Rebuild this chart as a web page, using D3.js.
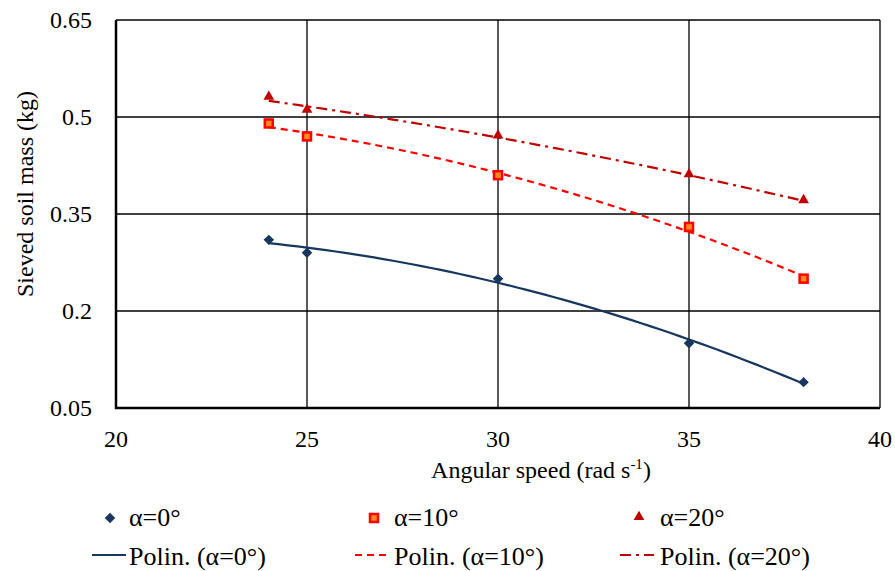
<!DOCTYPE html>
<html>
<head>
<meta charset="utf-8">
<script src="https://cdn.jsdelivr.net/npm/d3@7"></script>
</head>
<body style="margin:0; background:#fff">
<div style="position:absolute; left:-2000px; top:0; font-family:'Liberation Serif'; font-size:24px">Aa0.65 α=0°</div>
<svg width="895" height="571">
<text x="-500" y="-500" font-family="Liberation Serif" font-size="24">Aa</text>
</svg>
<script>
// data
var speeds = [24, 25, 30, 35, 38];
var mass_a0 = [0.31, 0.29, 0.25, 0.15, 0.09];
var mass_a10 = [0.49, 0.47, 0.41, 0.33, 0.25];
var mass_a20 = [0.53, 0.51, 0.47, 0.41, 0.37];
var x_ticks = [20, 25, 30, 35, 40];
var y_ticks = [0.05, 0.2, 0.35, 0.5, 0.65];
var series_names = ["α=0°", "α=10°", "α=20°"];

var svg = d3.select("svg");
var serif_face = "Liberation Serif";

var plot_left = 116, plot_right = 880, plot_top = 20, plot_bottom = 408;
var x = d3.scaleLinear().domain([20, 40]).range([plot_left, plot_right]);
var y = d3.scaleLinear().domain([0.05, 0.65]).range([plot_bottom, plot_top]);

var navy = "#17375E", red = "#FF0000", dark_red = "#C00000";

var add_text = function(parent, txt, px, py, size, anchor){
  return parent.append("text")
    .attr("x", px).attr("y", py)
    .attr("font-size", size)
    .attr("font-family", serif_face)
    .attr("text-anchor", anchor || "start")
    .text(txt);
};

// grid
svg.append("g").selectAll("line").data(x_ticks.slice(1))
  .enter().append("line")
  .attr("x1", d => x(d)).attr("x2", d => x(d))
  .attr("y1", plot_top).attr("y2", plot_bottom)
  .attr("stroke", "#000").attr("stroke-width", 1.3);
svg.append("g").selectAll("line").data(y_ticks.slice(1))
  .enter().append("line")
  .attr("x1", plot_left).attr("x2", plot_right)
  .attr("y1", d => y(d)).attr("y2", d => y(d))
  .attr("stroke", "#000").attr("stroke-width", 1.3);

// heavier left and bottom axes
svg.append("line").attr("x1", plot_left).attr("x2", plot_left).attr("y1", plot_top).attr("y2", plot_bottom + 1)
  .attr("stroke", "#000").attr("stroke-width", 2.5);
svg.append("line").attr("x1", plot_left - 1).attr("x2", plot_right).attr("y1", plot_bottom).attr("y2", plot_bottom)
  .attr("stroke", "#000").attr("stroke-width", 2.5);

// tick labels
var ytg = svg.append("g");
y_ticks.forEach(function(d){
  add_text(ytg, d, 92, y(d), 24, "end").attr("dy", "0.35em");
});
var xtg = svg.append("g");
x_ticks.forEach(function(d){
  add_text(xtg, d, x(d), 447, 24, "middle");
});

// axis titles
var xt = add_text(svg, "", 541, 478, 24, "middle");
xt.append("tspan").text("Angular speed (rad s");
xt.append("tspan").attr("font-size", 15).attr("dy", -9).text("-1");
xt.append("tspan").attr("dy", 9).text(")");

add_text(svg, "Sieved soil mass (kg)", 0, 0, 24, "middle")
  .attr("transform", "translate(33,194) rotate(-90)");

// quadratic least-squares trend (Excel "Polin." order 2)
var polyfit2 = function(xs, ys){
  var n = xs.length, s = [0,0,0,0,0], t = [0,0,0];
  for (var i = 0; i < n; i++){
    for (var k = 0; k < 5; k++) s[k] += Math.pow(xs[i], k);
    for (var k = 0; k < 3; k++) t[k] += ys[i]*Math.pow(xs[i], k);
  }
  var A = [[s[0],s[1],s[2],t[0]],[s[1],s[2],s[3],t[1]],[s[2],s[3],s[4],t[2]]];
  for (var c = 0; c < 3; c++){
    for (var r = c + 1; r < 3; r++){
      var f = A[r][c]/A[c][c];
      for (var k = c; k < 4; k++) A[r][k] -= f*A[c][k];
    }
  }
  var b = [0,0,0];
  for (var r = 2; r >= 0; r--){
    var v = A[r][3];
    for (var k = r + 1; k < 3; k++) v -= A[r][k]*b[k];
    b[r] = v/A[r][r];
  }
  return function(xv){ return b[0] + b[1]*xv + b[2]*xv*xv; };
};

var series = [
  {vals: mass_a0, color: navy, dash: null, marker: "diamond"},
  {vals: mass_a10, color: red, dash: "7,5", marker: "square"},
  {vals: mass_a20, color: dark_red, dash: "11,5,3,5", marker: "triangle"}
];

var line = d3.line().x(d => x(d[0])).y(d => y(d[1]));

series.forEach(function(s){
  var f = polyfit2(speeds, s.vals);
  var pts = d3.range(speeds[0], speeds[speeds.length - 1] + 0.001, 0.25).map(v => [v, f(v)]);
  svg.append("path").attr("d", line(pts))
    .attr("fill", "none").attr("stroke", s.color).attr("stroke-width", 2.2)
    .attr("stroke-dasharray", s.dash);
});

var draw_marker = function(g, kind, cx, cy){
  if (kind == "diamond"){
    g.append("path").attr("d", d3.symbol().type(d3.symbolDiamond2).size(70)())
      .attr("transform", "translate(" + cx + "," + cy + ")").attr("fill", navy);
  } else if (kind == "square"){
    g.append("rect").attr("x", cx - 4).attr("y", cy - 4).attr("width", 8).attr("height", 8)
      .attr("fill", "#FF8C1A").attr("stroke", red).attr("stroke-width", 2.5);
  } else {
    g.append("path").attr("d", d3.symbol().type(d3.symbolTriangle).size(50)())
      .attr("transform", "translate(" + cx + "," + (cy - 1) + ")").attr("fill", dark_red);
  }
};

series.forEach(function(s){
  var g = svg.append("g");
  speeds.forEach(function(v, i){ draw_marker(g, s.marker, x(v), y(s.vals[i])); });
});

// legend
var leg_x = [110, 374, 639];
var leg_line_x = [92, 355, 620];
var leg_text_x = [129, 394, 660];
series.forEach(function(s, i){
  var g = svg.append("g");
  draw_marker(g, s.marker, leg_x[i], 518);
  add_text(g, series_names[i], leg_text_x[i], 526, 26);
  g.append("line").attr("x1", leg_line_x[i]).attr("x2", leg_line_x[i] + 34)
    .attr("y1", 555).attr("y2", 555)
    .attr("stroke", s.color).attr("stroke-width", 2.2).attr("stroke-dasharray", s.dash);
  add_text(g, "Polin. (" + series_names[i] + ")", leg_text_x[i], 565, 26);
});
</script>
</body>
</html>
